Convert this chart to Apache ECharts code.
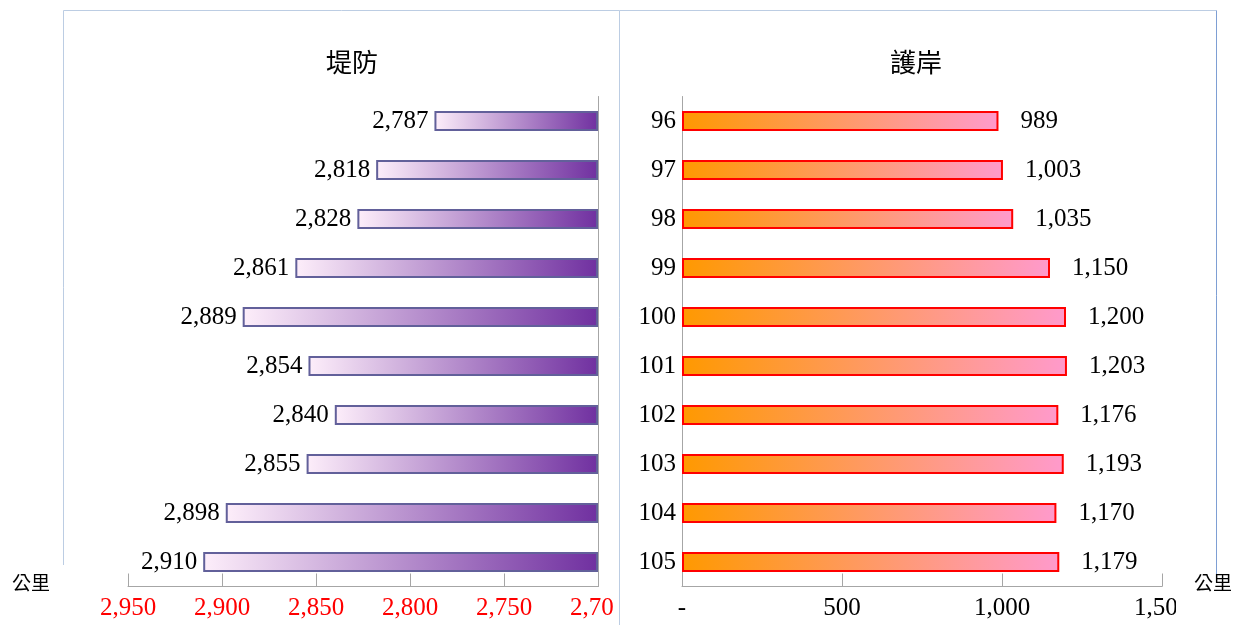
<!DOCTYPE html>
<html><head><meta charset="utf-8">
<script src="https://cdn.jsdelivr.net/npm/echarts@6/dist/echarts.min.js"></script>
<style>html,body{margin:0;padding:0;background:#fff}#c{width:1241px;height:625px}</style>
</head><body><div id="c"></div>
<script>
const years = ['96','97','98','99','100','101','102','103','104','105'];
const levee = [2787,2818,2828,2861,2889,2854,2840,2855,2898,2910];
const revetment = [989,1003,1035,1150,1200,1203,1176,1193,1170,1179];
const leveeAxis = {min: 2700, max: 2950, interval: 50};
const revetAxis = {min: 0, max: 1500, interval: 500};
const titles = ['堤防', '護岸'];
const unit = '公里';

const fmt = v => v === 0 ? '-' : Number(v).toLocaleString('en-US');
const serif = '"Liberation Serif", "Times New Roman", serif';
const cjk = '"Noto Sans CJK TC", "Noto Sans CJK SC", sans-serif';
const axisGray = '#a6a6a6';

const chart = echarts.init(document.getElementById('c'), null, {renderer: 'canvas'});
const frame = '#bccde3';
chart.setOption({
  animation: false,
  backgroundColor: '#fff',
  grid: [
    {left: 128, right: 643, top: 96.5, height: 490, containLabel: false},
    {left: 682, right: 79, top: 96.5, height: 490, containLabel: false}
  ],
  xAxis: [
    {gridIndex: 0, type: 'value', inverse: true, min: leveeAxis.min, max: leveeAxis.max, interval: leveeAxis.interval, startValue: leveeAxis.min,
     axisLine: {show: true, lineStyle: {color: axisGray, width: 1}},
     axisTick: {show: true, inside: true, length: 13, lineStyle: {color: axisGray}},
     splitLine: {show: false},
     axisLabel: {color: '#ff0000', fontFamily: serif, fontSize: 25, margin: 9, formatter: fmt}},
    {gridIndex: 1, type: 'value', min: revetAxis.min, max: revetAxis.max, interval: revetAxis.interval,
     axisLine: {show: true, lineStyle: {color: axisGray, width: 1}},
     axisTick: {show: true, inside: true, length: 13, lineStyle: {color: axisGray}},
     splitLine: {show: false},
     axisLabel: {color: '#000', fontFamily: serif, fontSize: 25, margin: 9, formatter: fmt}}
  ],
  yAxis: [
    {gridIndex: 0, type: 'category', data: years, inverse: true, position: 'right',
     axisLine: {show: true, lineStyle: {color: axisGray}}, axisTick: {show: false}, axisLabel: {show: false}},
    {gridIndex: 1, type: 'category', data: years, inverse: true, position: 'left',
     axisLine: {show: true, lineStyle: {color: axisGray}}, axisTick: {show: false},
     axisLabel: {color: '#000', fontFamily: serif, fontSize: 25, margin: 6}}
  ],
  series: [
    {type: 'bar', xAxisIndex: 0, yAxisIndex: 0, data: levee, barWidth: 20,
     itemStyle: {borderColor: '#62609a', borderWidth: 2,
       color: new echarts.graphic.LinearGradient(0, 0, 1, 0, [{offset: 0, color: '#fdeefa'}, {offset: 1, color: '#7030a0'}])},
     label: {show: true, position: 'left', distance: 6, color: '#000', fontFamily: serif, fontSize: 25, formatter: p => fmt(p.value)}},
    {type: 'bar', xAxisIndex: 1, yAxisIndex: 1, data: revetment, barWidth: 20,
     itemStyle: {borderColor: '#ff0000', borderWidth: 2,
       color: new echarts.graphic.LinearGradient(0, 0, 1, 0, [{offset: 0, color: '#ff9900'}, {offset: 1, color: '#ff9acc'}])},
     label: {show: true, position: 'right', distance: 22, color: '#000', fontFamily: serif, fontSize: 25, formatter: p => fmt(p.value)}}
  ],
  graphic: [
    {type: 'rect', z: 100, shape: {x: 613.5, y: 593, width: 40, height: 32}, style: {fill: '#fff'}},
    {type: 'rect', z: 100, shape: {x: 1176, y: 593, width: 65, height: 32}, style: {fill: '#fff'}},
    {type: 'line', z: 110, shape: {x1: 63.5, y1: 10.5, x2: 619.5, y2: 10.5}, style: {stroke: frame, lineWidth: 1}},
    {type: 'line', z: 110, shape: {x1: 619.5, y1: 10.5, x2: 1216.5, y2: 10.5}, style: {stroke: frame, lineWidth: 1}},
    {type: 'line', z: 110, shape: {x1: 63.5, y1: 10.5, x2: 63.5, y2: 565}, style: {stroke: frame, lineWidth: 1}},
    {type: 'line', z: 110, shape: {x1: 619.5, y1: 10.5, x2: 619.5, y2: 625}, style: {stroke: frame, lineWidth: 1}},
    {type: 'line', z: 110, shape: {x1: 1216.5, y1: 10.5, x2: 1216.5, y2: 581}, style: {stroke: '#7e9fd4', lineWidth: 1}},
    {type: 'text', z: 120, x: 352, y: 62, style: {text: titles[0], fill: '#000', font: '26px ' + cjk, textAlign: 'center', textVerticalAlign: 'middle'}},
    {type: 'text', z: 120, x: 916, y: 62, style: {text: titles[1], fill: '#000', font: '26px ' + cjk, textAlign: 'center', textVerticalAlign: 'middle'}},
    {type: 'text', z: 120, x: 31, y: 583, style: {text: unit, fill: '#000', font: '19px ' + cjk, textAlign: 'center', textVerticalAlign: 'middle'}},
    {type: 'text', z: 120, x: 1213, y: 583, style: {text: unit, fill: '#000', font: '19px ' + cjk, textAlign: 'center', textVerticalAlign: 'middle'}}
  ]
});
</script>
</body></html>
